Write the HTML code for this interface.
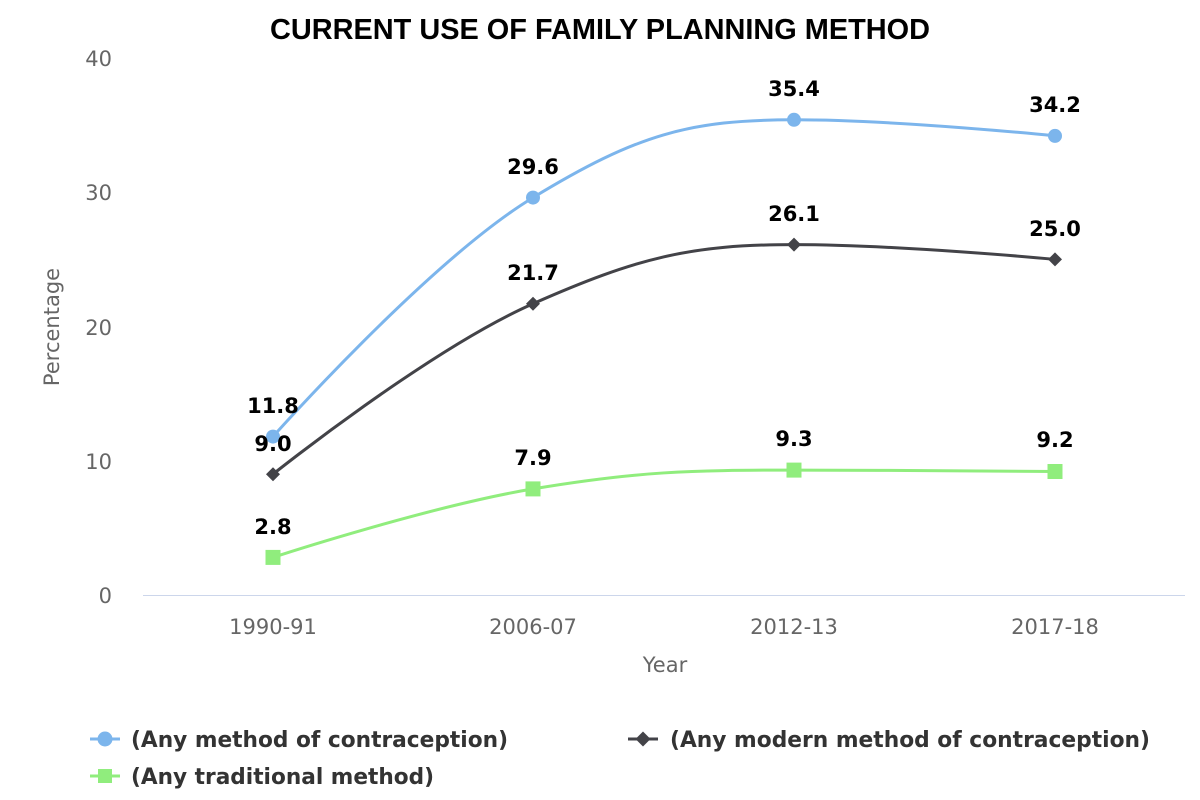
<!DOCTYPE html>
<html><head><meta charset="utf-8"><style>
html,body{margin:0;padding:0;background:#fff;}
svg{display:block;}
</style></head><body>
<svg width="1200" height="800" viewBox="0 0 1200 800" xmlns="http://www.w3.org/2000/svg">
<text x="600" y="39" text-anchor="middle" font-family="Liberation Sans, sans-serif" font-weight="bold" font-size="29" textLength="660" lengthAdjust="spacingAndGlyphs" fill="#000">CURRENT USE OF FAMILY PLANNING METHOD</text>
<line x1="143" y1="595.5" x2="1185" y2="595.5" stroke="#ccd6eb" stroke-width="1"/>
<g font-family="DejaVu Sans, sans-serif" font-size="21" fill="#666">
<text x="112" y="603" text-anchor="end">0</text>
<text x="112" y="469" text-anchor="end">10</text>
<text x="112" y="335" text-anchor="end">20</text>
<text x="112" y="200" text-anchor="end">30</text>
<text x="112" y="66" text-anchor="end">40</text>
<text x="273" y="634" text-anchor="middle">1990-91</text>
<text x="533" y="634" text-anchor="middle">2006-07</text>
<text x="794" y="634" text-anchor="middle">2012-13</text>
<text x="1055" y="634" text-anchor="middle">2017-18</text>
<text x="665" y="672" text-anchor="middle">Year</text>
<text transform="translate(59,327) rotate(-90)" text-anchor="middle">Percentage</text>
</g>
<g fill="none" stroke-width="3">
<path stroke="#7cb5ec" d="M273,436.6 C273,436.6 429,260.8 533,197.6 C637.4,134.1 689.6,119.8 794,119.8 C898.4,119.8 1055,135.9 1055,135.9"/>
<path stroke="#434348" d="M273,474.2 C273,474.2 429,349.5 533,303.7 C637.4,257.7 689.6,244.6 794,244.6 C898.4,244.6 1055,259.4 1055,259.4"/>
<path stroke="#90ed7d" d="M273,557.4 C273,557.4 429,506.3 533,488.9 C637.4,471.4 689.6,470.1 794,470.1 C898.4,470.1 1055,471.5 1055,471.5"/>
</g>
<g fill="#7cb5ec">
<circle cx="273" cy="436.6" r="7"/><circle cx="533" cy="197.6" r="7"/><circle cx="794" cy="119.8" r="7"/><circle cx="1055" cy="135.9" r="7"/>
</g>
<g fill="#434348">
<path d="M273,467.2 L280,474.2 L273,481.2 L266,474.2Z"/>
<path d="M533,296.7 L540,303.7 L533,310.7 L526,303.7Z"/>
<path d="M794,237.6 L801,244.6 L794,251.6 L787,244.6Z"/>
<path d="M1055,252.4 L1062,259.4 L1055,266.4 L1048,259.4Z"/>
</g>
<g fill="#90ed7d">
<rect x="265.5" y="549.9" width="15" height="15"/><rect x="525.5" y="481.4" width="15" height="15"/><rect x="786.5" y="462.6" width="15" height="15"/><rect x="1047.5" y="464" width="15" height="15"/>
</g>
<g font-family="DejaVu Sans, sans-serif" font-weight="bold" font-size="21" fill="#000" text-anchor="middle">
<text x="273" y="413">11.8</text><text x="533" y="174">29.6</text><text x="794" y="96">35.4</text><text x="1055" y="112">34.2</text>
<text x="273" y="451">9.0</text><text x="533" y="280">21.7</text><text x="794" y="221">26.1</text><text x="1055" y="236">25.0</text>
<text x="273" y="534">2.8</text><text x="533" y="465">7.9</text><text x="794" y="446">9.3</text><text x="1055" y="447">9.2</text>
</g>
<g font-family="DejaVu Sans, sans-serif" font-weight="bold" font-size="22" fill="#333">
<line x1="90" y1="739" x2="120" y2="739" stroke="#7cb5ec" stroke-width="3"/><circle cx="105" cy="739" r="7.5" fill="#7cb5ec"/>
<text x="131" y="747" textLength="377" lengthAdjust="spacingAndGlyphs">(Any method of contraception)</text>
<line x1="628" y1="739" x2="658" y2="739" stroke="#434348" stroke-width="3"/><path d="M643,731.5 L650.5,739 L643,746.5 L635.5,739Z" fill="#434348"/>
<text x="670" y="747" textLength="480" lengthAdjust="spacingAndGlyphs">(Any modern method of contraception)</text>
<line x1="90" y1="776" x2="120" y2="776" stroke="#90ed7d" stroke-width="3"/><rect x="98" y="769" width="14" height="14" fill="#90ed7d"/>
<text x="131" y="784" textLength="303" lengthAdjust="spacingAndGlyphs">(Any traditional method)</text>
</g>
</svg>
</body></html>
